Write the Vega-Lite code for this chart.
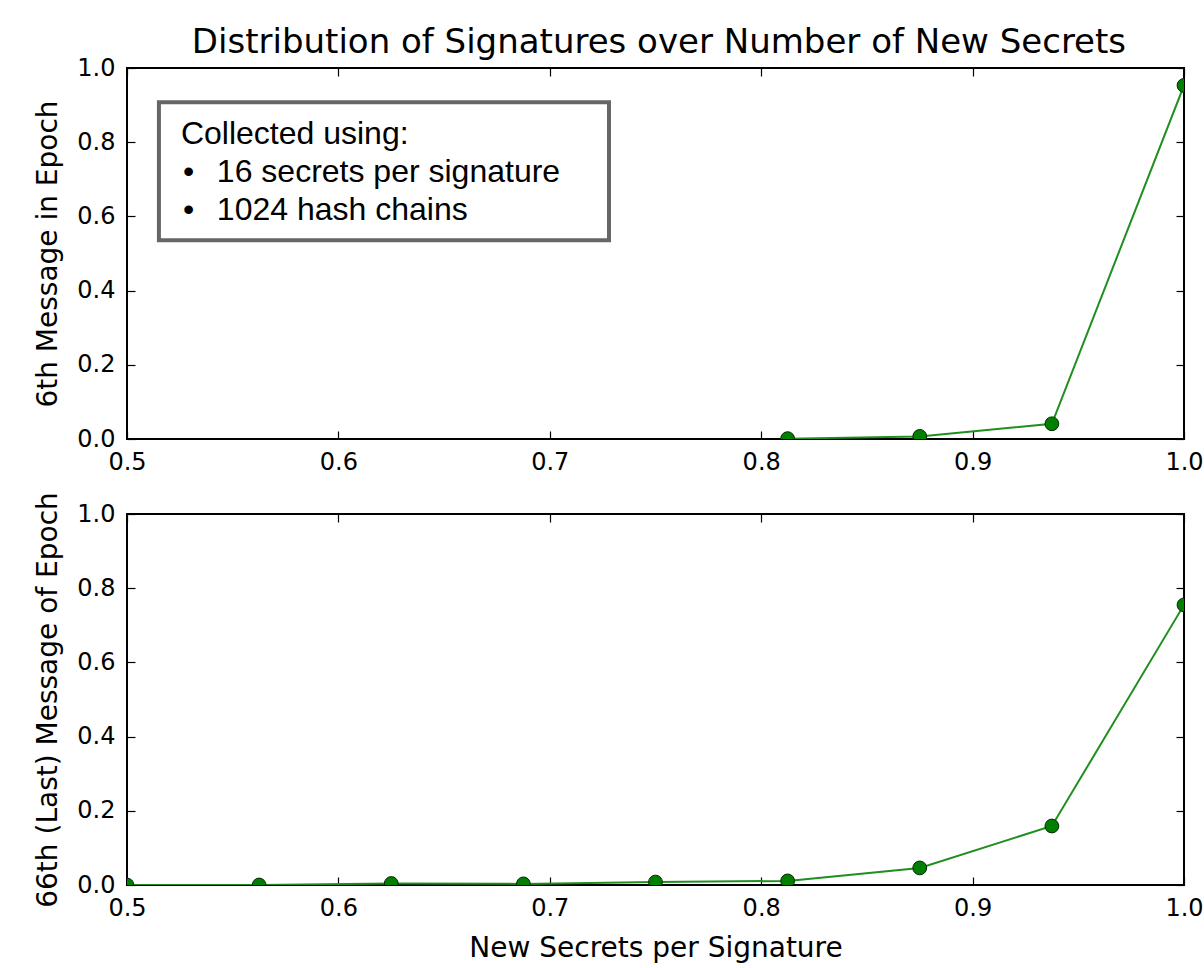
{
  "$schema": "https://vega.github.io/schema/vega-lite/v6.json",
  "padding": {"left": 33, "top": 26, "right": 0, "bottom": 5},
  "background": "white",
  "title": {"text": "Distribution of Signatures over Number of New Secrets", "fontSize": 34, "font": "DejaVu Sans", "fontWeight": "normal", "color": "black", "offset": -5, "anchor": "middle", "dx": 40},
  "spacing": 15,
  "config": {
    "font": "DejaVu Sans",
    "view": {"stroke": "black", "strokeWidth": 2},
    "axis": {"grid": false, "domain": false, "tickColor": "black", "tickSize": -8, "tickWidth": 1.2, "labelFontSize": 24, "labelColor": "black", "titleFontSize": 28, "titleFontWeight": "normal", "titleColor": "black", "labelFlush": false, "labelOverlap": false}
  },
  "datasets": {
    "top": [
      {"x": 0.8125, "y": 0.001},
      {"x": 0.875, "y": 0.007},
      {"x": 0.9375, "y": 0.041},
      {"x": 1.0, "y": 0.953}
    ],
    "bottom": [
      {"x": 0.5, "y": 0.0},
      {"x": 0.5625, "y": 0.0},
      {"x": 0.625, "y": 0.004},
      {"x": 0.6875, "y": 0.003},
      {"x": 0.75, "y": 0.008},
      {"x": 0.8125, "y": 0.011},
      {"x": 0.875, "y": 0.046},
      {"x": 0.9375, "y": 0.159},
      {"x": 1.0, "y": 0.755}
    ],
    "box": [{"x1": 0.5151, "x2": 0.728, "y1": 0.908, "y2": 0.536}],
    "notes": [
      {"x": 0.5255, "y": 0.795, "t": "Collected using:"},
      {"x": 0.5265, "y": 0.693, "t": "•"},
      {"x": 0.5425, "y": 0.693, "t": "16 secrets per signature"},
      {"x": 0.5265, "y": 0.590, "t": "•"},
      {"x": 0.5425, "y": 0.590, "t": "1024 hash chains"}
    ]
  },
  "vconcat": [
    {
      "width": 1057,
      "height": 371,
      "resolve": {"axis": {"x": "independent", "y": "independent"}},
      "layer": [
        {
          "data": {"name": "box"},
          "mark": {"type": "rect", "fill": "white", "stroke": "#666666", "strokeWidth": 4},
          "encoding": {
            "x": {"field": "x1", "type": "quantitative", "scale": {"domain": [0.5, 1.0], "nice": false, "zero": false}, "axis": null},
            "x2": {"field": "x2"},
            "y": {"field": "y1", "type": "quantitative", "scale": {"domain": [0, 1], "nice": false}, "axis": null},
            "y2": {"field": "y2"}
          }
        },
        {
          "data": {"name": "notes"},
          "mark": {"type": "text", "font": "Liberation Sans", "fontSize": 32, "align": "left", "baseline": "alphabetic", "color": "black"},
          "encoding": {
            "x": {"field": "x", "type": "quantitative", "axis": null},
            "y": {"field": "y", "type": "quantitative", "axis": null},
            "text": {"field": "t"}
          }
        },
        {
          "data": {"name": "top"},
          "mark": {"type": "line", "color": "#1f8f1f", "strokeWidth": 2, "clip": true},
          "encoding": {
            "x": {"field": "x", "type": "quantitative", "axis": {"orient": "bottom", "values": [0.5, 0.6, 0.7, 0.8, 0.9, 1.0], "format": ".1f", "title": null, "labelPadding": 19}},
            "y": {"field": "y", "type": "quantitative", "axis": {"orient": "left", "values": [0, 0.2, 0.4, 0.6, 0.8, 1.0], "format": ".1f", "title": "6th Message in Epoch", "labelPadding": 20, "titlePadding": 14}}
          }
        },
        {
          "data": {"name": "top"},
          "mark": {"type": "point", "filled": true, "fill": "#007f00", "stroke": "#002a00", "strokeWidth": 1, "opacity": 1, "size": 190, "clip": true},
          "encoding": {
            "x": {"field": "x", "type": "quantitative", "axis": {"orient": "top", "values": [0.5, 0.6, 0.7, 0.8, 0.9, 1.0], "labels": false, "title": null}},
            "y": {"field": "y", "type": "quantitative", "axis": {"orient": "right", "values": [0, 0.2, 0.4, 0.6, 0.8, 1.0], "labels": false, "title": null}}
          }
        }
      ]
    },
    {
      "width": 1057,
      "height": 371,
      "resolve": {"axis": {"x": "independent", "y": "independent"}},
      "layer": [
        {
          "data": {"name": "bottom"},
          "mark": {"type": "line", "color": "#1f8f1f", "strokeWidth": 2, "clip": true},
          "encoding": {
            "x": {"field": "x", "type": "quantitative", "scale": {"domain": [0.5, 1.0], "nice": false, "zero": false}, "axis": {"orient": "bottom", "values": [0.5, 0.6, 0.7, 0.8, 0.9, 1.0], "format": ".1f", "title": "New Secrets per Signature", "labelPadding": 19, "titlePadding": 14}},
            "y": {"field": "y", "type": "quantitative", "scale": {"domain": [0, 1], "nice": false}, "axis": {"orient": "left", "values": [0, 0.2, 0.4, 0.6, 0.8, 1.0], "format": ".1f", "title": "66th (Last) Message of Epoch", "labelPadding": 20, "titlePadding": 14}}
          }
        },
        {
          "data": {"name": "bottom"},
          "mark": {"type": "point", "filled": true, "fill": "#007f00", "stroke": "#002a00", "strokeWidth": 1, "opacity": 1, "size": 190, "clip": true},
          "encoding": {
            "x": {"field": "x", "type": "quantitative", "axis": {"orient": "top", "values": [0.5, 0.6, 0.7, 0.8, 0.9, 1.0], "labels": false, "title": null}},
            "y": {"field": "y", "type": "quantitative", "axis": {"orient": "right", "values": [0, 0.2, 0.4, 0.6, 0.8, 1.0], "labels": false, "title": null}}
          }
        }
      ]
    }
  ]
}
